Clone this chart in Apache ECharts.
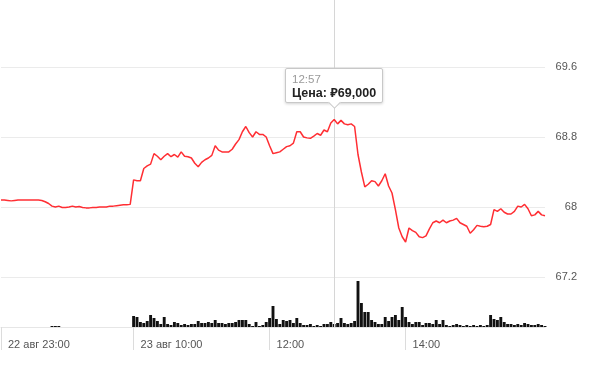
<!DOCTYPE html>
<html>
<head>
<meta charset="utf-8">
<script src="https://cdn.jsdelivr.net/npm/echarts@6/dist/echarts.min.js"></script>
<style>
html,body{margin:0;padding:0;background:#fff;}
#c{width:599px;height:371px;}
</style>
</head>
<body>
<div id="c"></div>
<script>
// Evening session 22 Aug (1-minute steps from 23:00)
const priceNight = [
  68.08,68.08,68.075,68.07,68.075,68.08,68.08,68.08,68.08,68.08,
  68.08,68.08,68.075,68.06,68.04,68.01,68.00,68.01,67.995,67.995,
  68.00,68.01,68.00,68.005,67.995,67.99,67.99,67.995,67.995,68.00,
  68.00,68.00,68.01,68.01,68.015,68.02,68.025,68.025,68.03
];
const volNight = [
  0,0,0,0,0,0,0,0,0,0,
  0,0,0,0,0,1,1,1,0,0,
  0,0,0,0,0,0,0,0,0,0,
  0,0,0,0,0,0,0,0,0
];
// Day session 23 Aug (3-minute steps from 10:00)
const priceDay = [
  68.31,68.30,68.30,68.44,68.47,68.49,68.61,68.58,68.54,68.58,
  68.61,68.575,68.60,68.57,68.63,68.58,68.575,68.56,68.50,68.46,
  68.51,68.54,68.56,68.59,68.70,68.65,68.63,68.63,68.63,68.66,
  68.72,68.77,68.86,68.92,68.85,68.80,68.86,68.83,68.83,68.80,
  68.70,68.61,68.62,68.63,68.66,68.69,68.70,68.73,68.86,68.86,
  68.80,68.79,68.785,68.81,68.84,68.82,68.88,68.86,68.96,69.00,
  68.95,68.99,68.95,68.94,68.95,68.92,68.60,68.40,68.23,68.26,
  68.30,68.29,68.24,68.30,68.38,68.24,68.16,67.97,67.76,67.66,
  67.60,67.76,67.73,67.71,67.66,67.65,67.67,67.75,67.82,67.84,
  67.82,67.85,67.82,67.84,67.85,67.87,67.82,67.80,67.78,67.70,
  67.74,67.79,67.78,67.775,67.78,67.80,67.97,67.95,67.98,67.94,
  67.92,67.92,67.95,68.01,68.00,68.03,67.98,67.90,67.91,67.95,
  67.91,67.90
];
const volDay = [
  11,10,5,4,6,12,9,6,3,10,
  3,2,5,4,2,3,2,3,3,6,
  4,4,5,4,7,4,4,3,4,4,
  5,7,7,7,3,1,5,1,2,5,
  9,21,8,3,7,6,7,4,9,4,
  2,2,3,1,2,1,3,3,5,3,
  4,9,4,3,4,6,46,24,15,15,
  7,5,3,3,10,6,10,12,7,20,
  10,5,3,5,5,2,4,4,3,7,
  3,7,2,1,2,3,2,1,2,1,
  2,1,2,1,2,12,8,7,10,5,
  3,3,2,3,2,4,3,2,2,3,
  2,1
];
const tickCats = ['23:00','10:00','12:00','14:00'];
const tickLabels = ['22 авг 23:00','23 авг 10:00','12:00','14:00'];
const tooltipCat = '12:57';

function hhmm(m){const h=Math.floor(m/60)%24, mm=m%60;return (h<10?'0':'')+h+':'+(mm<10?'0':'')+mm;}
const categories = [];
for (let i=0;i<priceNight.length;i++) categories.push(hhmm(23*60+i));
for (let i=0;i<priceDay.length;i++) categories.push(hhmm(10*60+3*i));
const prices = priceNight.concat(priceDay);
const volumes = volNight.concat(volDay);

const FONT = "'Liberation Sans', Arial, 'Noto Sans', sans-serif";
const chart = echarts.init(document.getElementById('c'), null, {renderer:'canvas'});
const isTick = (idx, val) => tickCats.indexOf(val) >= 0;

chart.setOption({
  animation:false,
  backgroundColor:'#fff',
  textStyle:{fontFamily:FONT},
  grid:[
    {left:1,right:54,top:67,bottom:94,outerBoundsMode:'none',containLabel:false},
    {left:1,right:54,top:0,bottom:44,outerBoundsMode:'none',containLabel:false}
  ],
  xAxis:[
    {type:'category',gridIndex:0,data:categories,boundaryGap:false,
     axisLine:{show:false},axisTick:{show:false},axisLabel:{show:false},splitLine:{show:false}},
    {type:'category',gridIndex:1,data:categories,boundaryGap:false,
     axisLine:{show:true,lineStyle:{color:'#e6e6e6',width:1}},
     axisTick:{show:true,interval:isTick,length:23,lineStyle:{color:'#dcdcdc',width:1}},
     axisLabel:{show:true,interval:isTick,align:'left',margin:12,padding:[0,0,0,7],
       color:'#555',fontSize:11,fontFamily:FONT,
       formatter:v=>{const k=tickCats.indexOf(v);return k>=0?tickLabels[k]:'';}},
     splitLine:{show:false}}
  ],
  yAxis:[
    {type:'value',gridIndex:0,position:'right',min:67.2,max:69.6,interval:0.8,
     axisLine:{show:false},axisTick:{show:false},
     axisLabel:{color:'#555',fontSize:11,fontFamily:FONT,align:'right',margin:32},
     splitLine:{show:true,lineStyle:{color:'#ebebeb',width:1}}},
    {type:'value',gridIndex:1,min:0,max:327,show:false,splitLine:{show:false}}
  ],
  tooltip:{
    trigger:'axis',
    triggerOn:'none',
    alwaysShowContent:true,
    transitionDuration:0,
    axisPointer:{type:'none'},
    backgroundColor:'#fff',
    borderColor:'#c8c8c8',
    borderWidth:1,
    padding:[3,6,1,6],
    extraCssText:'box-shadow:0 1px 3px rgba(0,0,0,0.18);border-radius:2px;overflow:visible;',
    position:function(point, params, dom, rect, size){
      return [point[0]-size.contentSize[0]/2, point[1]-size.contentSize[1]-16];
    },
    formatter:function(params){
      const list = Array.isArray(params) ? params : [params];
      const p = list.filter(q=>q.seriesIndex===0)[0] || list[0];
      const val = Number(p.value).toFixed(3).replace('.', ',');
      return '<div>'+
        '<div style="color:#9a9a9a;font-size:11.5px;line-height:14px;">'+p.name+'</div>'+
        '<div style="color:#222;font-weight:bold;font-size:12.5px;line-height:15px;">Цена: ₽'+val+'</div></div>'+
        '<div style="position:absolute;left:50%;bottom:-5px;width:8px;height:8px;margin-left:-4px;background:#fff;'+
        'border-right:1px solid #c8c8c8;border-bottom:1px solid #c8c8c8;transform:rotate(45deg);"></div>';
    }
  },
  series:[
    {type:'line',xAxisIndex:0,yAxisIndex:0,data:prices,showSymbol:false,symbol:'none',
     lineStyle:{color:'#f42a2f',width:1.5},itemStyle:{color:'#f42a2f'},z:5},
    {type:'bar',xAxisIndex:1,yAxisIndex:1,data:volumes,barCategoryGap:'15%',
     itemStyle:{color:'#111'},z:2,
     markLine:{silent:true,symbol:['none','none'],label:{show:false},
       lineStyle:{color:'#d6d6d6',width:1,type:'solid'},
       data:[{xAxis:tooltipCat}]}}
  ]
});

function showTip(){
  chart.dispatchAction({type:'showTip',seriesIndex:0,dataIndex:categories.indexOf(tooltipCat)});
}
showTip();
setTimeout(showTip, 50);
</script>
</body>
</html>
